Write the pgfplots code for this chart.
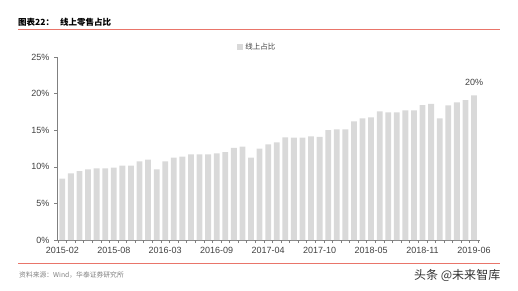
\documentclass[border=0pt]{standalone}
\usepackage{pgfplots}
\pgfplotsset{compat=1.18}
\usepackage{pgfplotstable}
\usepackage{fontspec}
\setmainfont{Liberation Sans}
\newfontfamily\cjk{Noto Sans CJK SC}
\definecolor{barc}{HTML}{D9D9D9}
\definecolor{redl}{HTML}{E9756A}
\definecolor{axc}{HTML}{808080}
\definecolor{txt}{HTML}{404040}
\pgfplotstableread{
i v
0 8.4
1 9.1
2 9.4
3 9.65
4 9.8
5 9.8
6 9.9
7 10.15
8 10.15
9 10.75
10 10.97
11 9.65
12 10.75
13 11.25
14 11.4
15 11.7
16 11.7
17 11.7
18 11.85
19 12.0
20 12.6
21 12.75
22 11.25
23 12.5
24 13.07
25 13.35
26 14.03
27 14.0
28 14.0
29 14.17
30 14.1
31 15.0
32 15.1
33 15.1
34 16.2
35 16.6
36 16.75
37 17.58
38 17.44
39 17.44
40 17.72
41 17.72
42 18.44
43 18.58
44 16.6
45 18.4
46 18.8
47 19.1
48 19.76
}\datatable
\begin{document}
\begin{tikzpicture}[x=1pt,y=1pt]
\useasboundingbox (0,0) rectangle (518,290);
% title and frame lines
\node[anchor=west,inner sep=0pt,text=black] at (18,268) {\cjk\bfseries\fontsize{8.5}{9}\selectfont 图表22：\hspace{6pt}线上零售占比};
\draw[redl,line width=1pt] (18,261) -- (500,261);
\draw[redl,line width=1pt] (18,27) -- (500,27);
\node[anchor=west,inner sep=0pt,text=gray] at (19,15) {\cjk\fontsize{6.8}{7}\selectfont 资料来源：Wind，华泰证券研究所};
\node[anchor=west,inner sep=0pt,text=black!80] at (414,15) {\cjk\fontsize{12}{13}\selectfont 头条 @未来智库};
\begin{axis}[
  at={(57pt,50pt)}, anchor=south west,
  scale only axis, width=423pt, height=183pt,
  xmin=-0.62, xmax=48.7, ymin=0, ymax=25,
  axis lines*=left,
  axis line style={axc,line width=0.8pt},
  ybar, bar width=5.8pt,
  xtick={0,6,...,48},
  xticklabels={2015-02,2015-08,2016-03,2016-09,2017-04,2017-10,2018-05,2018-11,2019-06},
  major x tick style={draw=none},
  minor xtick={-0.5,0.5,...,48.5},
  minor x tick style={axc,line width=0.6pt},
  minor tick length=3pt,
  ytick={0,5,...,25},
  yticklabel={\pgfmathprintnumber{\tick}\%},
  major y tick style={axc,line width=0.6pt},
  major tick length=3pt,
  tick align=outside,
  xtick pos=bottom, ytick pos=left,
  /pgf/number format/assume math mode=true,
  tick label style={font=\fontsize{9}{10}\selectfont, text=txt},
  xticklabel style={yshift=-1pt},
  yticklabel style={xshift=-1pt},
  legend style={draw=none, fill=none, at={(axis description cs:0.426,1.055)}, anchor=west, inner sep=0pt, font=\cjk\fontsize{7.5}{8}\selectfont, text=txt},
  legend image code/.code={\fill[barc] (0pt,-3pt) rectangle (6pt,3pt);},
  clip=false,
]
\addplot[fill=barc, draw=none] table[x=i,y=v]{\datatable};
\addlegendentry{线上占比}
\node[anchor=south, inner sep=0pt, font=\fontsize{9}{10}\selectfont, text=txt] at (axis cs:48,21.0) {20\%};
\end{axis}
\end{tikzpicture}
\end{document}
